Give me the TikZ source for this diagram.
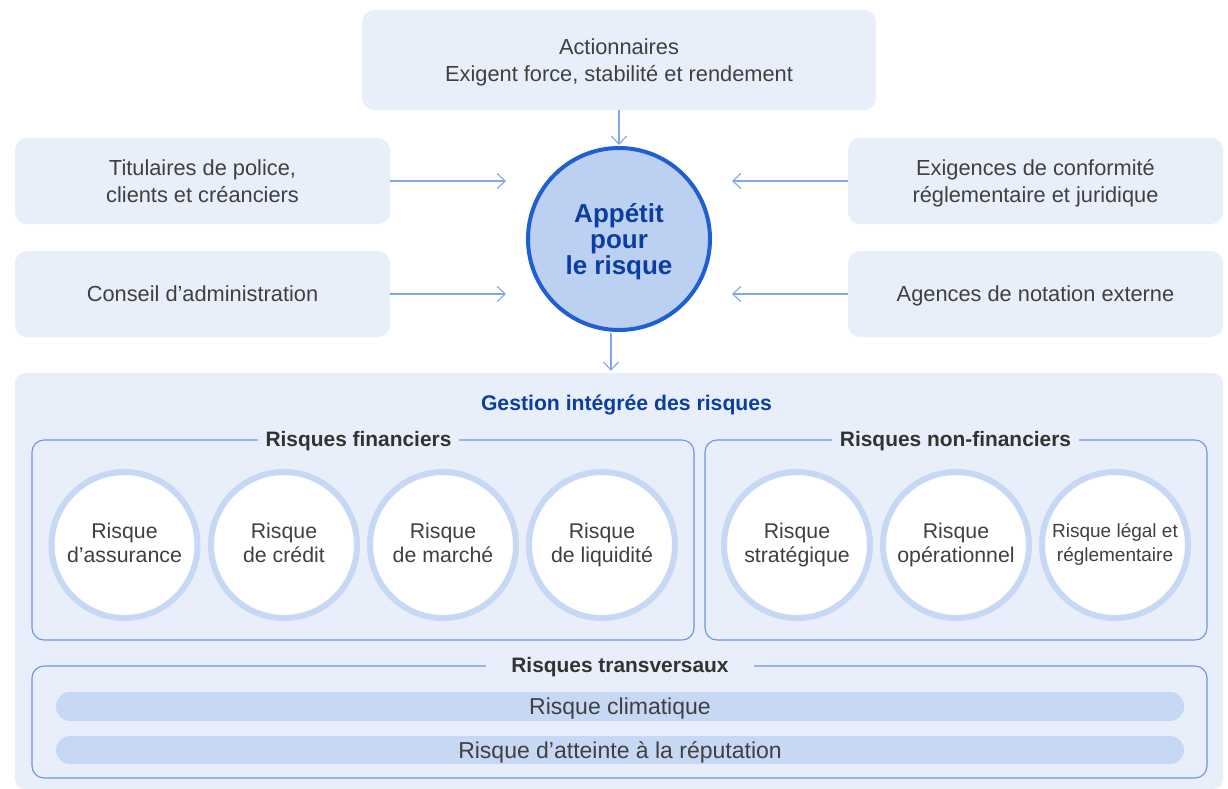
\documentclass[tikz,border=0pt]{standalone}
\usepackage{fontspec}
\setmainfont{Liberation Sans}
\usetikzlibrary{arrows.meta}
\definecolor{boxfill}{HTML}{E8EFFA}
\definecolor{arrowc}{HTML}{7FA6E6}
\definecolor{rcfill}{HTML}{BCD1F1}
\definecolor{rcdraw}{HTML}{1F5FD4}
\definecolor{ttlblue}{HTML}{0B3EA0}
\definecolor{grpline}{HTML}{6F93D8}
\definecolor{ringc}{HTML}{C6D8F3}
\definecolor{barc}{HTML}{C6D8F3}
\definecolor{txtc}{HTML}{404040}
\definecolor{hdrc}{HTML}{333333}
\tikzset{
  topbox/.style={rectangle, rounded corners=12pt, fill=boxfill, draw=none, align=center, text=txtc, font=\fontsize{21.8}{27}\selectfont, inner sep=0pt, text depth=0pt},
  arr/.style={draw=arrowc, line width=1.1pt, -{Straight Barb[length=8pt,width=15pt,line width=1.1pt]}},
  riskc/.style={circle, fill=rcfill, draw=rcdraw, line width=4pt, minimum size=182pt, inner sep=0pt, align=center, text=ttlblue, font=\fontsize{26}{26.3}\selectfont\bfseries, text depth=0pt},
  grpbox/.style={rectangle, rounded corners=12pt, draw=grpline, line width=1.1pt, inner sep=0pt},
  grptitle/.style={fill=boxfill, text=hdrc, font=\fontsize{20.9}{24}\selectfont\bfseries, inner ysep=2pt, inner xsep=8pt, text height=14.8pt, text depth=0pt},
  smallc/.style={circle, fill=white, draw=ringc, line width=6pt, minimum size=146pt, inner sep=0pt, align=center, text=txtc, font=\fontsize{21.3}{24}\selectfont, text depth=4.5pt},
  barbox/.style={rectangle, rounded corners=14pt, fill=barc, draw=none, minimum width=1128pt, text=txtc, font=\fontsize{23}{26}\selectfont, inner sep=0pt, text height=16pt, text depth=0pt}
}
\begin{document}
\begin{tikzpicture}[x=1pt,y=-1pt]
\useasboundingbox (0,0) rectangle (1228,788);
% top boxes
\node[topbox, minimum width=514pt, minimum height=100pt] (act) at (619,60) {Actionnaires\\Exigent force, stabilité et rendement};
\node[topbox, minimum width=375pt, minimum height=86pt] (tit) at (202.5,181) {Titulaires de police,\\clients et créanciers};
\node[topbox, minimum width=375pt, minimum height=86pt] (con) at (202.5,294) {Conseil d’administration};
\node[topbox, minimum width=375pt, minimum height=86pt] (exi) at (1035.5,181) {Exigences de conformité\\réglementaire et juridique};
\node[topbox, minimum width=375pt, minimum height=86pt] (age) at (1035.5,294) {Agences de notation externe};
% central circle
\node[riskc] (risk) at (619,239) {Appétit\\pour\\le risque};
% big box
\node[rectangle, rounded corners=10pt, fill=boxfill, minimum width=1208pt, minimum height=416pt, inner sep=0pt] (gest) at (619,581) {};
\node[text=ttlblue, font=\fontsize{21.2}{24}\selectfont\bfseries, text height=14.4pt, text depth=0pt] (gtitle) at (626.5,403.5) {Gestion intégrée des risques};
% arrows
\draw[arr, shorten >=1pt] (act.south) -- (risk.north);
\draw[arr, shorten >=20pt] (tit.east) -- (tit.east -| risk.west);
\draw[arr, shorten >=20pt] (con.east) -- (con.east -| risk.west);
\draw[arr, shorten >=20pt] (exi.west) -- (exi.west -| risk.east);
\draw[arr, shorten >=20pt] (age.west) -- (age.west -| risk.east);
\coordinate (rb) at ([xshift=-8pt,yshift=-1pt]risk.south);
\draw[arr, shorten >=2pt] (rb) -- (rb |- gest.north);
% group boxes
\node[grpbox, minimum width=662pt, minimum height=200pt] (fin) at (363,540) {};
\node[grptitle] (fint) at (358.5,439.5) {Risques financiers};
\node[grpbox, minimum width=502pt, minimum height=200pt] (nfin) at (956,540) {};
\node[grptitle] (nfint) at (955.5,439.5) {Risques non-financiers};
\node[grpbox, minimum width=1175pt, minimum height=112pt] (trans) at (619.5,722) {};
\node[grptitle, inner xsep=25pt] (transt) at (620,665.5) {Risques transversaux};
% small circles
\node[smallc] (c1) at (124.5,545) {Risque\\d’assurance};
\node[smallc] (c2) at (284,545) {Risque\\de crédit};
\node[smallc] (c3) at (443,545) {Risque\\de marché};
\node[smallc] (c4) at (602,545) {Risque\\de liquidité};
\node[smallc] (c5) at (797,545) {Risque\\stratégique};
\node[smallc] (c6) at (956,545) {Risque\\opérationnel};
\node[smallc, font=\fontsize{19}{24}\selectfont] (c7) at (1115,545) {Risque légal et\\réglementaire};
% bars
\node[barbox, minimum height=29pt] (b1) at (620,706.5) {Risque climatique};
\node[barbox, minimum height=28pt] (b2) at (620,750) {Risque d’atteinte à la réputation};
\end{tikzpicture}
\end{document}
